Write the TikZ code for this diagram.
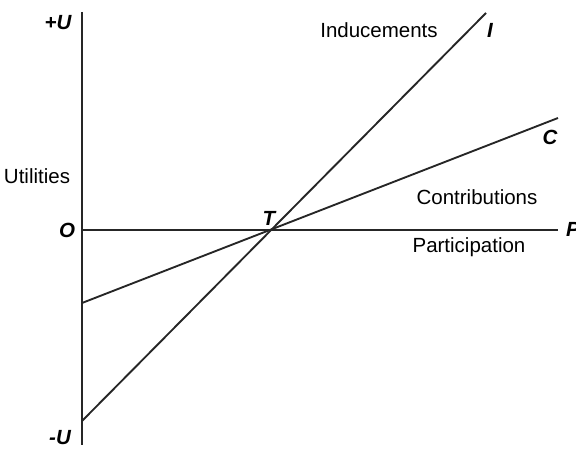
\documentclass[tikz,border=0pt]{standalone}
\usepackage{fontspec}
\setmainfont{Liberation Sans}
\begin{document}
\begin{tikzpicture}[x=0.03cm, y=0.03cm,
	every node/.style={font=\fontsize{17.5}{20}\selectfont, inner sep=0pt},
	axislabel/.style={font=\fontsize{17.5}{20}\selectfont\bfseries\itshape},
	curve/.style={line width=1.6pt, black!85}]
	
	% page frame
	\useasboundingbox (0,0) rectangle (576,451);
	
	% --- axes ---
	\coordinate (top) at (82,439);
	\coordinate (bot) at (82,6);
	\coordinate (o) at (82,221);
	\coordinate (right) at (558,221);
	\draw[curve] (top) -- (bot);
	\draw[curve] (o) -- (right);
	
	% --- the two lines ---
	\coordinate (i0) at (82,30);
	\coordinate (i1) at (486,438);
	\coordinate (c0) at (82,148);
	\coordinate (c1) at (558,333);
	\draw[curve] (i0) -- (i1);
	\draw[curve] (c0) -- (c1);
	
	% axis labels
	\node[axislabel] (plusu)  at (58,428) {+U};
	\node[axislabel] (minusu) at (60,13)  {-U};
	\node[axislabel] (olab)   at (67,221) {O};
	\node[axislabel] (plab)   at (573,222) {P};
	\node (util) at (37,275) {Utilities};
	
	% line labels
	\node[axislabel] (tlab) at (269,233) {T};
	\node[axislabel] (ilab) at (490,421) {I};
	\node[axislabel] (clab) at (550,314) {C};
	\node (induc)  at (379,421) {Inducements};
	\node (contr)  at (477,254) {Contributions};
	\node (partic) at (469,204) {Participation};
	
\end{tikzpicture}
\end{document}
